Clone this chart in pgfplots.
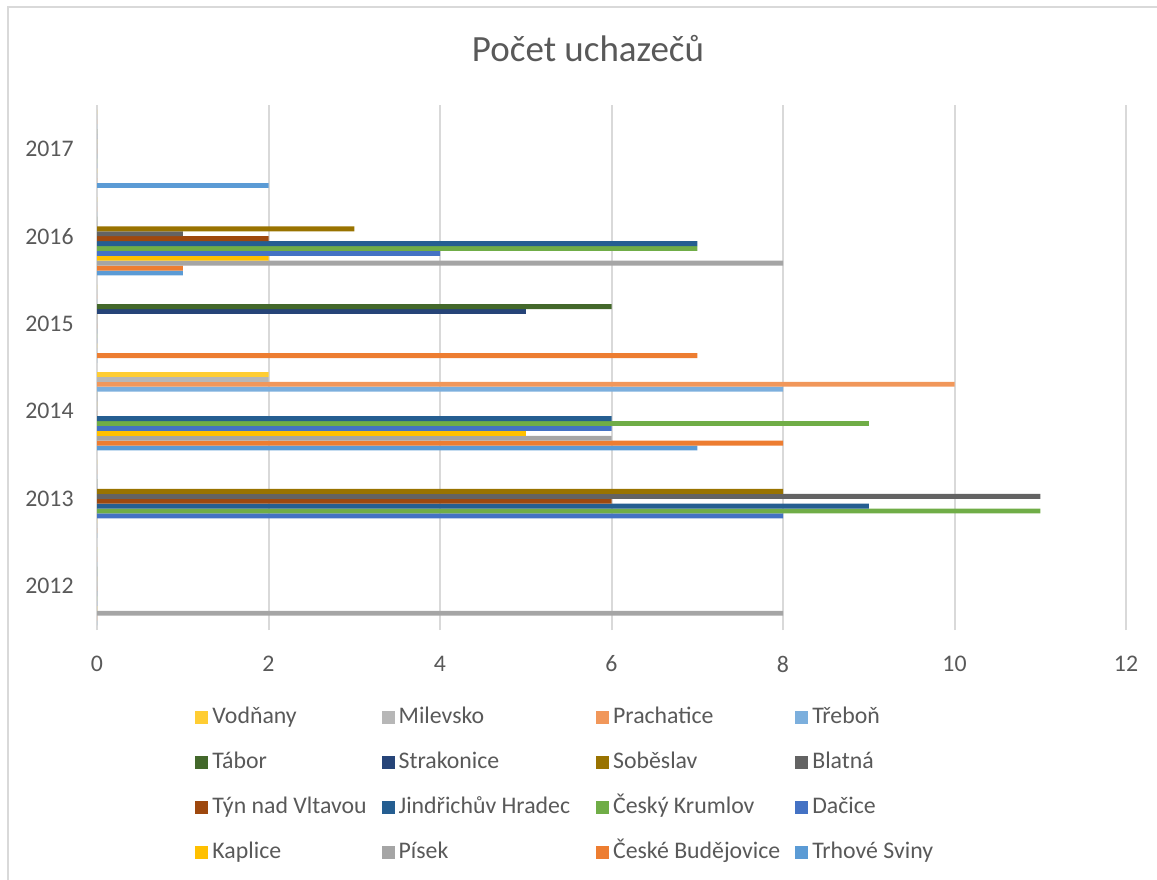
\documentclass[border=0pt]{standalone}
\usepackage{fontspec}
\setmainfont{Carlito}
\usepackage{pgfplots}
\pgfplotsset{compat=1.18}
\usepackage{pgfplotstable}

\definecolor{txt}{HTML}{595959}
\definecolor{gridc}{HTML}{D9D9D9}
\definecolor{cTS}{HTML}{5B9BD5}
\definecolor{cCB}{HTML}{ED7D31}
\definecolor{cPI}{HTML}{A5A5A5}
\definecolor{cKA}{HTML}{FFC000}
\definecolor{cDA}{HTML}{4472C4}
\definecolor{cCK}{HTML}{70AD47}
\definecolor{cJH}{HTML}{255E91}
\definecolor{cTY}{HTML}{9E480E}
\definecolor{cBL}{HTML}{636363}
\definecolor{cSO}{HTML}{997300}
\definecolor{cST}{HTML}{264478}
\definecolor{cTA}{HTML}{43682B}
\definecolor{cTR}{HTML}{7CAFDD}
\definecolor{cPR}{HTML}{F1975A}
\definecolor{cMI}{HTML}{B7B7B7}
\definecolor{cVO}{HTML}{FFCD33}

% rok: 0 = 2012 ... 5 = 2017
\pgfplotstableread{
y TS CB PI KA DA CK JH TY BL SO ST TA TR PR MI VO
0 0 0 8 0 0 0  0 0 0  0 0 0 0 0  0 0
1 0 0 0 0 8 11 9 6 11 8 0 0 0 0  0 0
2 7 8 6 5 6 9  6 0 0  0 0 0 8 10 2 2
3 0 7 0 0 0 0  0 0 0  0 5 6 0 0  0 0
4 1 1 8 2 4 7  7 2 1  3 0 0 0 0  0 0
5 2 0 0 0 0 0  0 0 0  0 0 0 0 0  0 0
}\data

\newcommand{\lab}{\fontsize{11.9}{14}\selectfont}

\begin{document}
\begin{tikzpicture}
\begin{axis}[
    at={(48.5pt,124.5pt)}, anchor=south west,
    scale only axis,
    width=514.5pt, height=262.5pt,
    xbar=0pt, bar width=2.45pt,
    every axis plot/.append style={draw=none,
        legend image code/.code={\fill[##1] (0pt,-3.25pt) rectangle (6.5pt,3.25pt);}},
    xmin=0, xmax=12, ymin=-0.5, ymax=5.5,
    xtick={0,2,4,6,8,10,12},
    ytick={0,1,2,3,4,5},
    yticklabels={2012,2013,2014,2015,2016,2017},
    xmajorgrids,
    major grid style={gridc, line width=1pt},
    axis line style={draw=none},
    major tick length=0pt,
    /pgf/number format/assume math mode=true,
    tick label style={font=\lab, text=txt},
    xticklabel style={inner sep=0pt, anchor=north, yshift=-12.75pt},
    yticklabel style={inner sep=0pt, anchor=east, xshift=-11.5pt},
    legend columns=4,
    reverse legend,
    legend cell align=left,
    legend style={at={(0.0953,-0.144)}, anchor=north west, draw=none,
        inner sep=0pt, font=\lab, text=txt,
        nodes={inner xsep=2pt, inner ysep=0pt, text height=8.5pt, text depth=2.5pt},
        row sep=11.5pt, column sep=0pt,
        /tikz/column 2/.style={column sep=5.5pt},
        /tikz/column 4/.style={column sep=11pt},
        /tikz/column 6/.style={column sep=5.5pt}},
]
\addplot[fill=cTS] table[x=TS, y=y] {\data}; \addlegendentry{Trhové Sviny}
\addplot[fill=cCB] table[x=CB, y=y] {\data}; \addlegendentry{České Budějovice}
\addplot[fill=cPI] table[x=PI, y=y] {\data}; \addlegendentry{Písek}
\addplot[fill=cKA] table[x=KA, y=y] {\data}; \addlegendentry{Kaplice}
\addplot[fill=cDA] table[x=DA, y=y] {\data}; \addlegendentry{Dačice}
\addplot[fill=cCK] table[x=CK, y=y] {\data}; \addlegendentry{Český Krumlov}
\addplot[fill=cJH] table[x=JH, y=y] {\data}; \addlegendentry{Jindřichův Hradec}
\addplot[fill=cTY] table[x=TY, y=y] {\data}; \addlegendentry{Týn nad Vltavou}
\addplot[fill=cBL] table[x=BL, y=y] {\data}; \addlegendentry{Blatná}
\addplot[fill=cSO] table[x=SO, y=y] {\data}; \addlegendentry{Soběslav}
\addplot[fill=cST] table[x=ST, y=y] {\data}; \addlegendentry{Strakonice}
\addplot[fill=cTA] table[x=TA, y=y] {\data}; \addlegendentry{Tábor}
\addplot[fill=cTR] table[x=TR, y=y] {\data}; \addlegendentry{Třeboň}
\addplot[fill=cPR] table[x=PR, y=y] {\data}; \addlegendentry{Prachatice}
\addplot[fill=cMI] table[x=MI, y=y] {\data}; \addlegendentry{Milevsko}
\addplot[fill=cVO] table[x=VO, y=y] {\data}; \addlegendentry{Vodňany}
\end{axis}
% titulek a rámeček grafu
\node[font=\fontsize{18.5}{22}\selectfont, text=txt, anchor=base] at (294pt,408.5pt) {Počet uchazečů};
\draw[gridc, line width=0.75pt] (4pt,-10pt) -- (4pt,436pt) -- (600pt,436pt);
\pgfresetboundingbox
\useasboundingbox (0,0) rectangle (578.5pt,439.5pt);
\end{tikzpicture}
\end{document}
